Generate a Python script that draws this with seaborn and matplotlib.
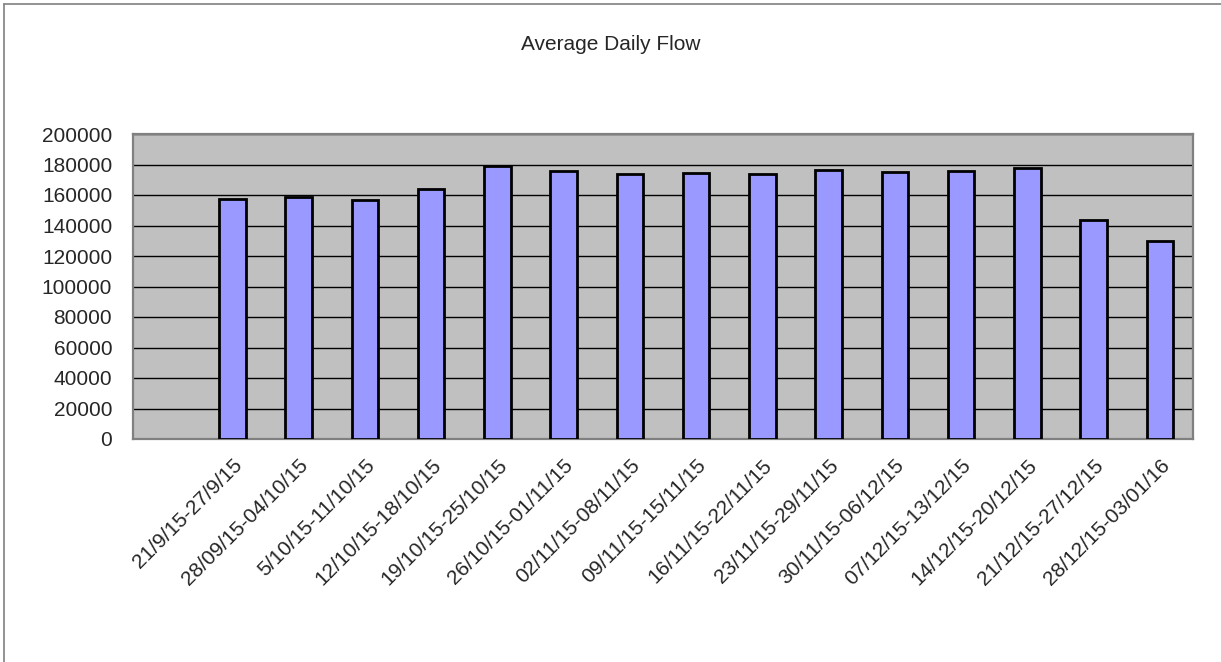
import numpy as np
import pandas as pd
import matplotlib
matplotlib.use('Agg')
import matplotlib.pyplot as plt
from matplotlib.lines import Line2D
from matplotlib.ticker import FixedLocator
import seaborn as sns

# ================================
# DATA
# ================================
weeks = ['', '21/9/15-27/9/15', '28/09/15-04/10/15', '5/10/15-11/10/15',
         '12/10/15-18/10/15', '19/10/15-25/10/15', '26/10/15-01/11/15',
         '02/11/15-08/11/15', '09/11/15-15/11/15', '16/11/15-22/11/15',
         '23/11/15-29/11/15', '30/11/15-06/12/15', '07/12/15-13/12/15',
         '14/12/15-20/12/15', '21/12/15-27/12/15', '28/12/15-03/01/16']
flow = [157200, 158900, 157000, 164000, 179200, 176000, 173600, 174200,
        173800, 176200, 174900, 176000, 177700, 143800, 130000]
y_ticks = [0, 20000, 40000, 60000, 80000, 100000, 120000, 140000,
           160000, 180000, 200000]

df = pd.DataFrame({'week': weeks[1:], 'flow': flow})

# ================================
# PLOT
# ================================
sns.set_style('white')
plt.rcParams['font.family'] = ['Liberation Sans', 'DejaVu Sans']

fig = plt.figure(figsize=(12.21, 6.62), dpi=100)
ax = fig.add_axes([133 / 1221, 1 - 439 / 662, 1060 / 1221, 305 / 662])
ax.set_facecolor('#C0C0C0')

sns.barplot(data=df, x='week', y='flow', order=weeks, ax=ax,
            color='#9999FF', saturation=1, width=0.4,
            edgecolor='black', linewidth=2.0, zorder=3)

ax.set_ylim(0, 200000)
ax.set_xlim(-0.5, len(weeks) - 0.5)
ax.set_yticks(y_ticks)
ax.set_yticklabels([str(v) for v in y_ticks], fontsize=15)
ax.yaxis.grid(True, color='black', linewidth=1.0, zorder=1)
ax.set_axisbelow(True)

ax.set_xticks(range(len(weeks)))
ax.set_xticklabels(weeks, rotation=45, ha='right', rotation_mode='anchor',
                   fontsize=15)
ax.tick_params(axis='x', which='major', length=0, pad=12)
ax.xaxis.set_minor_locator(FixedLocator(np.arange(-0.5, len(weeks), 1.0)))
ax.tick_params(axis='x', which='minor', length=5, width=1.2,
               color='#808080', direction='out')
ax.tick_params(axis='y', length=5, width=1.2, color='#808080',
               direction='out', pad=10)

for side in ['top', 'bottom', 'left', 'right']:
    ax.spines[side].set_visible(True)
    ax.spines[side].set_color('#808080')
    ax.spines[side].set_linewidth(1.6)

ax.set_xlabel('')
ax.set_ylabel('')

fig.text(0.5, 1 - 45 / 662, 'Average Daily Flow', ha='center',
         va='center', fontsize=15)

# chart border (top and left edges only visible)
fig.add_artist(Line2D([4 / 1221, 1], [1 - 4 / 662, 1 - 4 / 662],
                      color='#808080', linewidth=1.2))
fig.add_artist(Line2D([4 / 1221, 4 / 1221], [0, 1 - 4 / 662],
                      color='#808080', linewidth=1.2))

plt.savefig('out.png', dpi=100)
